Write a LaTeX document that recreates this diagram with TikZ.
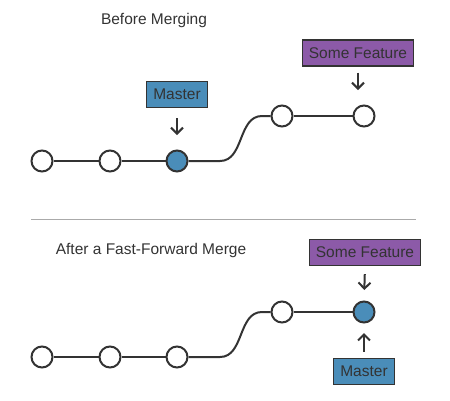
\documentclass[tikz,border=0pt]{standalone}
\usepackage{fontspec}
\setmainfont{Liberation Sans}
\usetikzlibrary{arrows.meta}
\definecolor{gblue}{HTML}{4A8DB9}
\definecolor{gpurple}{HTML}{8C5AA8}
\definecolor{ink}{HTML}{333333}
\definecolor{sepgray}{HTML}{AAAAAA}
\begin{document}
\begin{tikzpicture}[x=1pt,y=-1pt,
  commit/.style={circle,draw=ink,line width=2pt,minimum size=21pt,inner sep=0pt,fill=white},
  headc/.style={commit,fill=gblue},
  tagbox/.style={draw=ink,line width=1.2pt,inner xsep=6.5pt,inner ysep=0pt,minimum height=26pt,text=ink,font=\fontsize{15.5}{18}\selectfont},
  masterbox/.style={tagbox,fill=gblue},
  featbox/.style={tagbox,fill=gpurple},
  ptr/.style={draw=ink,line width=2pt,-{Straight Barb[length=6pt,width=12pt]}},
  title/.style={text=ink,font=\fontsize{15.5}{18}\selectfont},
  thick edge/.style={draw=ink,line width=2.5pt},
  thin edge/.style={draw=ink,line width=1.3pt},
  curve edge/.style={draw=ink,line width=2pt}]
\useasboundingbox (0,0) rectangle (450,400);

% ---- Before merging ----
\node[title] (t1) at (154,20) {Before Merging};
\node[commit] (c1) at (42,161) {};
\node[commit] (c2) at (110,161) {};
\node[headc]  (c3) at (177,161) {};
\node[commit] (c4) at (282,116) {};
\node[commit] (c5) at (364,116) {};
\coordinate (b1) at (220,161);
\coordinate (b2) at (262,116);
\draw[thick edge] (c1) -- (c2);
\draw[thick edge] (c2) -- (c3);
\draw[curve edge] (c3.east) -- (b1) to[out=0,in=180] (b2) -- (c4.west);
\draw[thin edge] (c4) -- (c5);
\node[masterbox] (m1) at (177,94.5) {Master};
\node[featbox] (f1) at (358,53) {Some Feature};
\draw[ptr,shorten <=10pt,shorten >=14.5pt] (m1.south) -- (c3.north);
\draw[ptr,shorten <=6pt,shorten >=14.5pt] (f1.south) -- (f1.south |- c5.north);

% ---- separator ----
\coordinate (sl) at (31,219);
\coordinate (sr) at (416,219);
\draw[sepgray,line width=1pt] (sl) -- (sr);

% ---- After fast-forward ----
\node[title] (t2) at (151,250) {After a Fast-Forward Merge};
\node[commit] (d1) at (42,357) {};
\node[commit] (d2) at (110,357) {};
\node[commit] (d3) at (177,357) {};
\node[commit] (d4) at (282,312) {};
\node[headc]  (d5) at (364,312) {};
\coordinate (e1) at (220,357);
\coordinate (e2) at (262,312);
\draw[thick edge] (d1) -- (d2);
\draw[thick edge] (d2) -- (d3);
\draw[curve edge] (d3.east) -- (e1) to[out=0,in=180] (e2) -- (d4.west);
\draw[thin edge] (d4) -- (d5);
\node[featbox] (f2) at (365,252.5) {Some Feature};
\node[masterbox] (m2) at (364,371.5) {Master};
\draw[ptr,shorten <=8pt,shorten >=10.5pt] (f2.south) -- (d5.north);
\draw[ptr,shorten <=6pt,shorten >=9.5pt] (m2.north) -- (d5.south);
\end{tikzpicture}
\end{document}
